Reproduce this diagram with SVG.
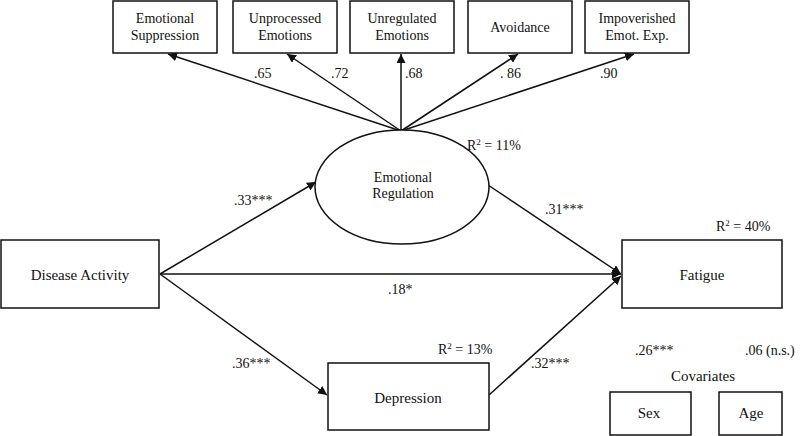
<svg xmlns="http://www.w3.org/2000/svg" width="800" height="436" viewBox="0 0 800 436" font-family="'Liberation Serif', 'Times New Roman', Times, 'DejaVu Serif', serif">
<style>
.box{fill:#fff;stroke:#111;stroke-width:1.5}
.t{font-family:'Liberation Serif','Times New Roman',Times,'DejaVu Serif',serif;font-size:15px;fill:#111;text-anchor:middle}
.ts{font-family:'Liberation Serif','Times New Roman',Times,'DejaVu Serif',serif;font-size:14px;fill:#111;text-anchor:middle}
.l{font-family:'Liberation Serif','Times New Roman',Times,'DejaVu Serif',serif;font-size:14px;fill:#111}
.c{stroke:#111;stroke-width:1.5;fill:none;marker-end:url(#ah)}
</style>
<defs>
<marker id="ah" viewBox="0 0 10 10" refX="10" refY="5" markerWidth="6" markerHeight="6" markerUnits="strokeWidth" orient="auto">
<path d="M0,0 L10,5 L0,10 z" fill="#111"/>
</marker>
</defs>
<rect width="800" height="436" fill="#fff"/>
<g id="connectors">
<line class="c" x1="401" y1="131" x2="168" y2="54"/>
<line class="c" x1="401" y1="131" x2="287" y2="54"/>
<line class="c" x1="401" y1="131" x2="401" y2="54"/>
<line class="c" x1="401" y1="131" x2="518" y2="54"/>
<line class="c" x1="401" y1="131" x2="634" y2="54"/>
<line class="c" x1="160" y1="274" x2="316" y2="182"/>
<line class="c" x1="160" y1="274" x2="327" y2="395"/>
<line class="c" x1="160" y1="274" x2="621" y2="274"/>
<line class="c" x1="488" y1="185" x2="621" y2="274"/>
<line class="c" x1="489" y1="395" x2="621" y2="276"/>
</g>
<g id="n-suppression"><rect class="box" x="113" y="1" width="104" height="52"/><text class="ts" x="165" y="23">Emotional</text><text class="ts" x="165" y="40">Suppression</text></g>
<g id="n-unprocessed"><rect class="box" x="233" y="1" width="104" height="52"/><text class="ts" x="285" y="23">Unprocessed</text><text class="ts" x="285" y="40">Emotions</text></g>
<g id="n-unregulated"><rect class="box" x="350" y="1" width="104" height="52"/><text class="ts" x="402" y="23">Unregulated</text><text class="ts" x="402" y="40">Emotions</text></g>
<g id="n-avoidance"><rect class="box" x="468" y="1" width="104" height="52"/><text class="ts" x="520" y="32">Avoidance</text></g>
<g id="n-impoverished"><rect class="box" x="585" y="1" width="104" height="52"/><text class="ts" x="637" y="23">Impoverished</text><text class="ts" x="637" y="40">Emot. Exp.</text></g>
<g id="n-emoreg"><ellipse cx="402" cy="187" rx="87" ry="57" fill="#fff" stroke="#111" stroke-width="1.5"/><text class="ts" x="403" y="182">Emotional</text><text class="ts" x="403" y="198">Regulation</text></g>
<g id="n-disease"><rect class="box" x="1" y="240" width="158" height="68"/><text class="t" x="80" y="280">Disease Activity</text></g>
<g id="n-fatigue"><rect class="box" x="622" y="240" width="160" height="68"/><text class="t" x="702" y="280">Fatigue</text></g>
<g id="n-depression"><rect class="box" x="328" y="363" width="161" height="67"/><text class="t" x="408" y="403">Depression</text></g>
<g id="n-sex"><rect class="box" x="610" y="392" width="81" height="43"/><text class="t" x="649" y="418">Sex</text></g>
<g id="n-age"><rect class="box" x="719" y="392" width="63" height="43"/><text class="t" x="751" y="418">Age</text></g>
<g id="labels">
<text class="l" x="254" y="78">.65</text>
<text class="l" x="331" y="78">.72</text>
<text class="l" x="405" y="78">.68</text>
<text class="l" x="500" y="78">. 86</text>
<text class="l" x="600" y="78">.90</text>
<text class="l" x="467" y="150">R<tspan font-size="9" dy="-5">2</tspan><tspan dy="5"> = 11%</tspan></text>
<text class="l" x="716" y="231">R<tspan font-size="9" dy="-5">2</tspan><tspan dy="5"> = 40%</tspan></text>
<text class="l" x="438" y="354">R<tspan font-size="9" dy="-5">2</tspan><tspan dy="5"> = 13%</tspan></text>
<text class="l" x="234" y="205">.33***</text>
<text class="l" x="545" y="214">.31***</text>
<text class="l" x="388" y="294">.18*</text>
<text class="l" x="232" y="368">.36***</text>
<text class="l" x="531" y="368">.32***</text>
<text class="l" x="635" y="355">.26***</text>
<text class="l" x="745" y="355">.06 (n.s.)</text>
<text class="t" x="703" y="381">Covariates</text>
</g>
</svg>
